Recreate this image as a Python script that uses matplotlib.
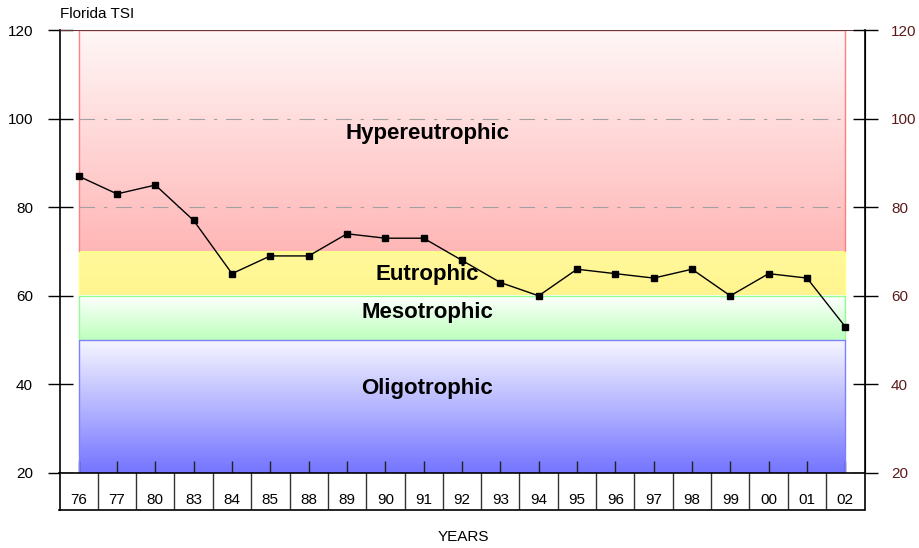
import numpy as np
import matplotlib.pyplot as plt
from matplotlib.colors import LinearSegmentedColormap

plt.rcParams['font.family'] = ['Liberation Sans', 'DejaVu Sans']

# data
years = ['76', '77', '80', '83', '84', '85', '88', '89', '90', '91', '92',
         '93', '94', '95', '96', '97', '98', '99', '00', '01', '02']
tsi = [87, 83, 85, 77, 65, 69, 69, 74, 73, 73, 68,
       63, 60, 66, 65, 64, 66, 60, 65, 64, 53]

# trophic bands
band_names = ['Hypereutrophic', 'Eutrophic', 'Mesotrophic', 'Oligotrophic']
band_low = [70, 60, 50, 20]
band_high = [120, 70, 60, 50]
band_top = ['#fff7f7', '#fff99c', '#ffffff', '#f6f6ff']
band_bottom = ['#ffb6b6', '#fff48e', '#bdffbd', '#7474ff']
band_edge = ['#ff8080', '#ffff80', '#90ff90', '#8080ff']
band_label_y = [96.6, 64.7, 56.2, 39.0]

W, H = 919, 548
fig = plt.figure(figsize=(W / 100, H / 100), dpi=100)
L, R, T, B = 59.5, 864.5, 30, 473
ax = fig.add_axes([L / W, 1 - B / H, (R - L) / W, (B - T) / H])

n = len(years)
x = np.arange(n)
ax.set_xlim(-0.5, n - 0.5)
ax.set_ylim(20, 120)

# gradient bands
for name, lo, hi, c1, c2, ec, ly in zip(band_names, band_low, band_high,
                                        band_top, band_bottom, band_edge, band_label_y):
    cmap = LinearSegmentedColormap.from_list(name, [c2, c1])
    grad = np.linspace(0, 1, 256).reshape(-1, 1)
    ax.imshow(grad, cmap=cmap, aspect='auto', origin='lower',
              extent=(0, n - 1, lo, hi), zorder=1, interpolation='bilinear')
    ax.plot([0, 0, n - 1, n - 1], [lo, hi, hi, lo], color=ec, lw=1, zorder=2)
    ax.text(9.1, ly, name, ha='center', va='center', fontsize=16,
            fontweight='bold', zorder=5)

# dashed grid lines inside the bands
for gy in [80, 100]:
    ax.hlines(gy, 0, n - 1, color='#a0a0a0', lw=0.8,
              linestyles=[(0, (14, 8, 3, 8))], zorder=3)
ax.hlines(120, -0.5, n - 0.5, color='#6a3535', lw=1.5, zorder=3)

ax.plot(x, tsi, color='black', lw=1, marker='s', markersize=5, zorder=6)

for s in ['top', 'bottom']:
    ax.spines[s].set_visible(False)
ax.spines['left'].set_linewidth(1.2)

ax.set_yticks([20, 40, 60, 80, 100, 120])
ax.tick_params(axis='y', direction='inout', length=18, width=1, labelsize=11,
               pad=10, colors='black')
ax.set_xticks(x)
ax.set_xticklabels([])
ax.tick_params(axis='x', direction='inout', length=17, width=1, colors='#222222')

# right axis
ax2 = ax.twinx()
ax2.set_ylim(20, 120)
ax2.set_yticks([20, 40, 60, 80, 100, 120])
ax2.tick_params(axis='y', direction='inout', length=18, width=1, labelsize=11,
                pad=10, labelcolor='#5c1a1a')
for s in ['top', 'bottom', 'left']:
    ax2.spines[s].set_visible(False)
ax2.spines['right'].set_linewidth(1.2)

# category box below the plot
axb = fig.add_axes([L / W, 1 - 510 / H, (R - L) / W, (510 - B) / H])
axb.set_xlim(-0.5, n - 0.5)
axb.set_ylim(0, 1)
axb.set_xticks([])
axb.set_yticks([])
for s in axb.spines.values():
    s.set_linewidth(1.2)
for i in range(n - 1):
    axb.axvline(i + 0.5, color='#333333', lw=1)
for i, lab in enumerate(years):
    axb.text(i, 0.27, lab, ha='center', va='center', fontsize=11)

fig.text(L / W, 1 - 14 / H, 'Florida TSI', ha='left', va='center', fontsize=11)
fig.text(463 / W, 1 - 537 / H, 'YEARS', ha='center', va='center', fontsize=11)

fig.savefig('out.png', dpi=100)
